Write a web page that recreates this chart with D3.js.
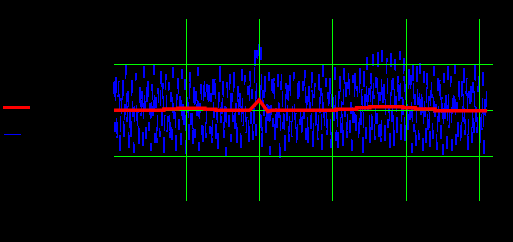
<!DOCTYPE html>
<html>
<head>
<meta charset="utf-8">
<script src="https://cdn.jsdelivr.net/npm/d3@7"></script>
<style>
  body { margin: 0; background: #000; }
  svg { display: block; }
</style>
</head>
<body>
<svg id="chart" width="513" height="242"></svg>
<script>
"use strict";

// raw signal samples, evenly spaced from tStart to tEnd
const tStart = 0.02;
const tEnd = 5.108;
const rawValues = [
  .62,-.48,.91,-.83,.15,.77,-.95,.34,-.21,.88,-.67,.05,.97,-.39,.52,-.88,.26,-.74,.69,-.12,
  -.93,.44,.81,-.57,.09,-.99,.73,-.31,.58,-.79,.96,-.05,-.64,.37,.85,-.46,.19,-.9,.64,-.23,
  .99,-.71,.28,-.86,.47,.03,-.59,.92,-.35,.71,-.97,.13,.83,-.52,-.18,.6,-.81,.4,-.66,.94,
  -.27,.07,-.92,.55,.79,-.43,.31,-.76,.89,-.1,-.55,.67,-.98,.22,.5,-.69,.98,-.33,.11,-.85,
  .75,-.6,.42,-.15,.93,-.89,.18,.63,-.4,-.96,.86,.24,-.73,.57,-.08,.8,-.53,.36,-.91,.69,
  -.2,.9,-.62,.01,-.84,.49,.95,-.45,-.02,.72,-.78,.29,-.99,.61,.16,-.37,.84,-.7,.45,-.26,
  1.05,-.58,.21,-.94,.66,-.14,.38,-.82,.9,-.49,.12,.76,-.65,-.03,.53,-.9,.97,-.3,.46,-.75,
  -.17,1.4,-.56,1.3,.87,
  1.43,-.4,1.38,-.9,.6,-.2,.95,-.72,.31,-.5,.82,-.97,.14,.68,-.36,.92,-.81,.25,-.62,.78,
  -.04,-1.04,.55,.87,-.44,.2,-.93,.74,-.28,.6,-.85,.98,-.11,-.7,.41,.83,-.58,.06,-.95,.51,
  .89,-.32,.17,-.77,.64,-.19,.96,-.66,.35,-.88,.72,.02,-.47,.9,-.99,.27,.58,-.61,.13,-.83,
  .8,-.24,.47,-.92,.99,-.53,.08,.7,-.74,.39,-.16,.86,-.96,.23,.62,-.42,.94,-.68,.04,-.87,
  .57,
  .85,-.6,.32,-.88,.96,-.15,.6,-.79,.44,1.02,-.5,.18,-.9,.77,-.29,.99,-.72,.53,.1,-.84,
  1.08,-.38,.66,-.93,.87,.24,-.63,1.15,-.19,.48,-.86,.94,-.45,1.22,.05,-.75,.71,-.3,1.26,-.58,
  .39,-.91,1.3,-.12,.8,-.67,.57,1.18,-.4,.2,-.82,1.24,-.27,.69,-.89,1.1,.28,-.54,.92,-.07,
  1.28,-.73,.46,-.36,1.2,-.86,.62,.15,-.6,1.12,-.22,.76,-.94,1.05,-.48,.35,-.8,.98,.08,-.66,
  1.02,-.33,.58,-.9,.84,-.16,-.72,.93,-.51,.4,-.87,.79,.22,-.62,.96,-.41,.12,-.95,.7,-.25,
  .88,
  -.64,.49,-.97,.81,-.19,.34,-.85,.95,-.47,.07,.73,-.9,.56,-.31,.99,-.76,.18,-.58,.87,-.03,
  -.92,.63,-.4,.91,-.7,.26,.8,-.98,.42,-.14,.77,-.83,.6,-.5,.97,-.21,-.66,.38,.9,-.88,
  .15,-.54,.83,-.96,.5,-.3,.68
];

// smoothed curve
const smoothT = [0.02, 0.70, 0.70, 0.89, 0.89, 1.26, 1.26, 1.41, 1.41, 1.87, 2.00, 2.12, 2.17,
  3.05, 3.05, 3.33, 3.33, 3.51, 3.51, 3.96, 3.96, 4.13, 4.13, 4.40, 4.40, 5.11];
const smoothV = [-0.007, -0.007, 0.022, 0.022, 0.037, 0.037, 0.015, 0.015, -0.007, -0.007, 0.217, -0.037, -0.007,
  -0.007, 0.015, 0.015, 0.05, 0.05, 0.072, 0.072, 0.05, 0.05, 0.022, 0.022, -0.015, -0.015];

const xTicks = [1, 2, 3, 4, 5];
const yTicks = [-1, 0, 1];

const margin = { left: 114, right: 20, top: 19, bottom: 41 };
const width = 513, height = 242;
const innerW = width - margin.left - margin.right;
const innerH = height - margin.top - margin.bottom;

const svg = d3.select('#chart');
svg.append('rect').attr('width', width).attr('height', height).attr('fill', '#000');

const x = d3.scaleLinear().domain([0.02, 5.19]).range([0, innerW]);
const y = d3.scaleLinear().domain([-1.98, 1.98]).range([innerH, 0]);

const g = svg.append('g').attr('transform', `translate(${margin.left},${margin.top})`);

const rawStep = (tEnd - tStart) / (rawValues.length - 1);
const raw = rawValues.map((v, i) => ({ t: tStart + i * rawStep, v }));
const smooth = smoothT.map((t, i) => ({ t, v: smoothV[i] }));

const line = d3.line().x(d => x(d.t)).y(d => y(d.v));

// raw signal (dashed, drawn first)
g.append('path')
    .datum(raw)
    .attr('d', line)
    .attr('fill', 'none')
    .attr('stroke', '#0000ff')
    .attr('stroke-width', 1.5)
    .attr('stroke-dasharray', '16,25')
    .attr('shape-rendering', 'crispEdges');

// grid, snapped to whole pixels
const xAxis = g.append('g')
    .attr('transform', `translate(0,${innerH})`)
    .call(d3.axisBottom(x).tickValues(xTicks).tickSize(-innerH).tickSizeOuter(0));
xAxis.selectAll('.tick').attr('transform', d => `translate(${Math.round(x(d)) + 0.5},0)`);
const yAxis = g.append('g')
    .call(d3.axisLeft(y).tickValues(yTicks).tickSize(-innerW).tickSizeOuter(0));
yAxis.selectAll('.tick').attr('transform', d => `translate(0,${Math.round(y(d)) + 0.5})`);
[xAxis, yAxis].forEach(ax => {
    ax.select('.domain').remove();
    ax.selectAll('line')
        .attr('stroke', '#00ff00')
        .attr('stroke-width', 1)
        .attr('shape-rendering', 'crispEdges');
    ax.selectAll('text').attr('fill', '#000');
});

// smoothed curve
g.append('path')
    .datum(smooth)
    .attr('d', line)
    .attr('fill', 'none')
    .attr('stroke', '#ff0000')
    .attr('stroke-width', 3.5);

// legend
const legend = svg.append('g');
legend.append('line')
    .attr('x1', 3).attr('x2', 30).attr('y1', 107.5).attr('y2', 107.5)
    .attr('stroke', '#ff0000').attr('stroke-width', 3);
legend.append('line')
    .attr('x1', 4).attr('x2', 31).attr('y1', 134.5).attr('y2', 134.5)
    .attr('stroke', '#0000ff').attr('stroke-width', 1)
    .attr('stroke-dasharray', '17,20');
</script>
</body>
</html>
